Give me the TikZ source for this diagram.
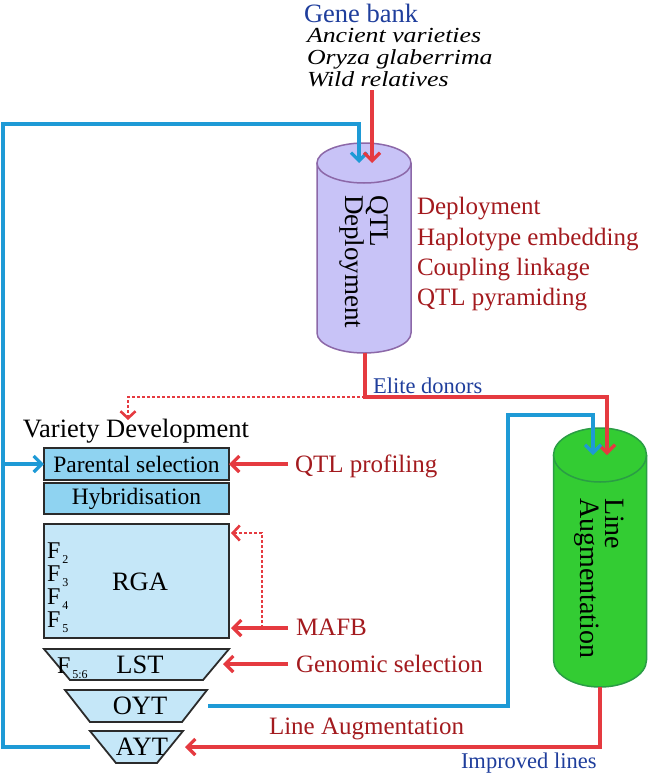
\documentclass[tikz,border=0pt]{standalone}
\usepackage{fontspec}
\setmainfont{Liberation Serif}
\usepackage{graphicx}
\usetikzlibrary{arrows.meta}
\definecolor{lblue}{HTML}{1E9AD6}
\definecolor{ared}{HTML}{E53A40}
\definecolor{dred}{HTML}{A31A1E}
\definecolor{tblue}{HTML}{1F3E9C}
\definecolor{boxdark}{HTML}{8FD3F1}
\definecolor{boxlight}{HTML}{C5E7F8}
\definecolor{boxline}{HTML}{2B2B2B}
\definecolor{purfill}{HTML}{C8C3F7}
\definecolor{purdraw}{HTML}{8C68A8}
\definecolor{grfill}{HTML}{33CC33}
\definecolor{grdraw}{HTML}{2A9D45}
\newcommand\fsz[2]{\fontsize{#1}{#2}\selectfont}
\newcommand\subs[1]{\raisebox{-5pt}{\fontsize{12}{12}\selectfont\,#1}}
\tikzset{
  every node/.style={inner sep=0pt, outer sep=0pt},
  rarr/.style={draw=ared, line width=3.2pt, -{Straight Barb[length=8pt,width=16pt]}},
  barr/.style={draw=lblue, line width=3.2pt, -{Straight Barb[length=8pt,width=16pt]}},
  rdots/.style={draw=ared, line width=2.6pt, dash pattern=on 2.6pt off 2.4pt, -{Straight Barb[length=7pt,width=15pt]}},
  stage/.style={draw=boxline, line width=1.8pt, fill=#1, minimum width=185pt, font=\fsz{23.5}{26}},
  trap/.style={draw=boxline, line width=1.8pt, fill=boxlight},
  lab/.style={text=dred, font=\fsz{25}{30}, anchor=base west},
  note/.style={text=tblue, font=\fsz{22.5}{26}, anchor=base west},
  big/.style={font=\fsz{26.5}{30}},
  gbit/.style={font=\fsz{21.5}{22}\itshape, anchor=base west},
  cyltxt/.style={rotate=-90, anchor=base west, font=\fsz{27}{27}},
}
\begin{document}
\begin{tikzpicture}[x=1pt,y=-1pt]
\useasboundingbox (0,0) rectangle (648,774);

% ---------- QTL Deployment cylinder ----------
\fill[purfill] (317,163) rectangle (411,333);
\fill[purfill] (364,333) ellipse[x radius=47pt, y radius=20pt];
\draw[purdraw, line width=1.5pt] (317,163) -- (317,333) arc[start angle=180, end angle=360, x radius=47pt, y radius=20pt] -- (411,163);
\draw[purdraw, fill=purfill, line width=1.5pt] (364,163) ellipse[x radius=47pt, y radius=20pt];
\coordinate (qtlinB) at (359,163);
\coordinate (qtlinR) at (372,163);
\coordinate (qtlout) at (365,353);
\node[cyltxt] (qtlA) at (370,195) {QTL};
\node[cyltxt] (qtlB) at (345,195) {Deployment};

% ---------- Line Augmentation cylinder ----------
\fill[grfill] (553.5,455) rectangle (646.5,660);
\fill[grfill] (600,660) ellipse[x radius=46.5pt, y radius=27pt];
\draw[grdraw, line width=1.5pt] (553.5,455) -- (553.5,660) arc[start angle=180, end angle=360, x radius=46.5pt, y radius=27pt] -- (646.5,455);
\draw[grdraw, fill=grfill, line width=1.5pt] (600,455) ellipse[x radius=46.5pt, y radius=27pt];
\coordinate (lainB) at (593,455);
\coordinate (lainR) at (607,455);
\coordinate (laout) at (600,687);
\node[cyltxt, font=\fsz{28}{28}] (laA) at (605,498) {Line};
\node[cyltxt, font=\fsz{28}{28}] (laB) at (580,498) {Augmentation};

% ---------- Gene bank ----------
\node[text=tblue, font=\fsz{26.5}{30}, anchor=base west] (gb) at (304,22) {Gene bank};
\node[gbit] (anc) at (307,42) {\scalebox{1.2}[1]{Ancient varieties}};
\node[gbit] (ory) at (307,64) {\scalebox{1.2}[1]{Oryza glaberrima}};
\node[gbit] (wild) at (307,86) {\scalebox{1.2}[1]{Wild relatives}};
\coordinate (gbout) at (372,90);

% ---------- QTL deployment labels ----------
\node[lab] (d1) at (417,214) {Deployment};
\node[lab] (d2) at (417,245) {Haplotype embedding};
\node[lab] (d3) at (417,275) {Coupling linkage};
\node[lab] (d4) at (417,305) {QTL pyramiding};

% ---------- Variety development ----------
\node[big, anchor=base west] (vd) at (23,437) {Variety Development};
\coordinate (vdin) at (128,420);
\node[stage=boxdark, minimum height=32pt] (ps) at (136.5,464) {Parental selection};
\node[stage=boxdark, minimum height=31pt] (hyb) at (136.5,498.5) {Hybridisation};
\node[stage=boxlight, minimum height=114pt] (rga) at (136.5,581) {};
\node[big] (rgat) at (140,582) {RGA};
\node[font=\fsz{24}{24}, anchor=base west] (f2) at (47,558) {F\subs{2}};
\node[font=\fsz{24}{24}, anchor=base west] (f3) at (47,581) {F\subs{3}};
\node[font=\fsz{24}{24}, anchor=base west] (f4) at (47,604) {F\subs{4}};
\node[font=\fsz{24}{24}, anchor=base west] (f5) at (47,627) {F\subs{5}};

\draw[trap] (44,649) -- (229,649) -- (203,680) -- (70,680) -- cycle;
\node[font=\fsz{24}{24}, anchor=base west] (f56) at (57,673) {F\subs{5:6}};
\node[big, anchor=base] (lst) at (140,673) {LST};
\draw[trap] (65,690) -- (207,690) -- (182,722) -- (90,722) -- cycle;
\node[big] (oyt) at (140,706) {OYT};
\draw[trap] (90,731) -- (183,731) -- (157,763) -- (116,763) -- cycle;
\node[big] (ayt) at (142,747) {AYT};

\coordinate (rgatop) at (231,533);
\coordinate (rgabot) at (231,628);
\coordinate (lstE) at (223,664);
\coordinate (oytE) at (208,706);
\coordinate (aytE) at (185,747);
\coordinate (aytW) at (90,747);

% ---------- right side labels ----------
\node[lab] (qp) at (295,472) {QTL profiling};
\node[lab] (mafb) at (296,635) {MAFB};
\node[lab] (gs) at (296,672) {Genomic selection};
\node[lab] (la) at (269,734) {Line Augmentation};
\node[note] (ed) at (373,393) {Elite donors};
\node[note] (il) at (461,768) {Improved lines};

% ---------- connectors ----------
\draw[barr] (aytW) -- (3,747) -- (3,124) -- (359,124) -- (qtlinB);
\draw[barr] (3,464) -- (ps.west);
\draw[rarr] (gbout) -- (qtlinR);
\draw[rarr] (qtlout) -- (365,397) -- (607,397) -- (lainR);
\draw[rdots] (365,397) -- (128,397) -- (vdin);
\draw[barr] (oytE) -- (508,706) -- (508,415) -- (593,415) -- (lainB);
\draw[rarr] (laout) -- (600,747) -- (aytE);
\draw[rarr] (288,464) -- (ps.east);
\draw[rarr] (288,628) -- (rgabot);
\draw[rdots] (262,628) -- (262,533) -- (rgatop);
\draw[rarr] (288,664) -- (lstE);
\end{tikzpicture}
\end{document}
